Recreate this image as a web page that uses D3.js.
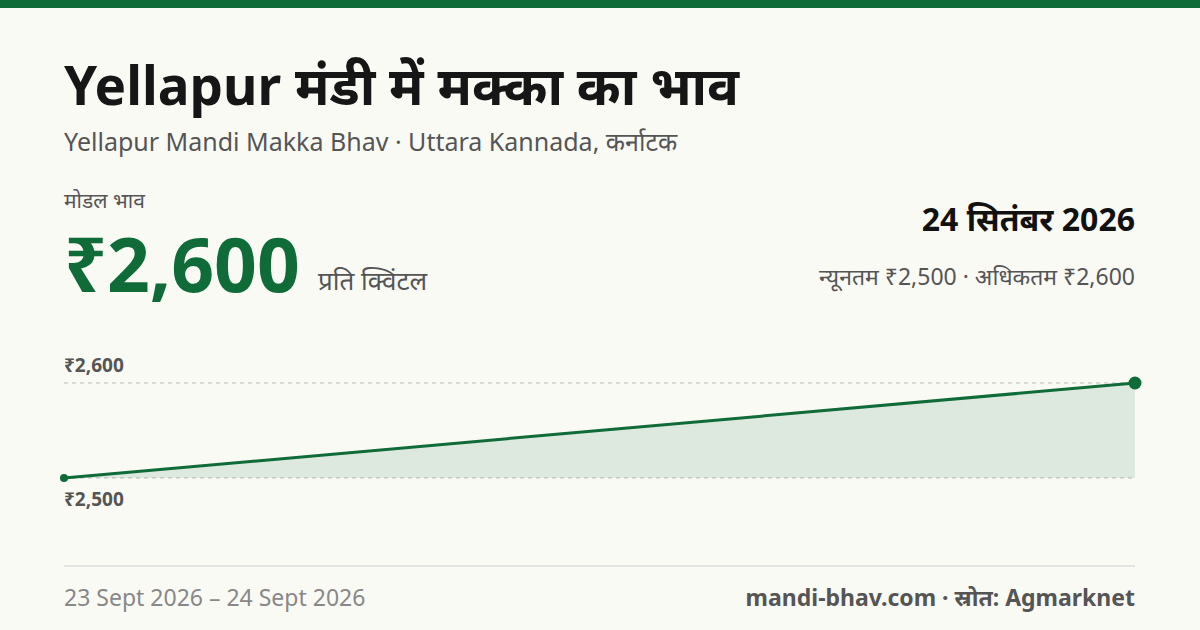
<!DOCTYPE html>
<html><head><meta charset="utf-8">
<script src="https://cdn.jsdelivr.net/npm/d3@7"></script>
<style>body{margin:0;background:#fafaf5}svg{display:block;font-family:"Noto Sans","Noto Sans Devanagari",sans-serif}</style>
</head><body><svg id="c" width="1200" height="630"></svg>
<script>
const dates = ["23 Sept 2026","24 Sept 2026"];
const prices = [2500, 2600];
const tickValues = [2500, 2600];
const tickLabels = ["₹2,500","₹2,600"];

const svg = d3.select("#c");
svg.append("rect").attr("width",1200).attr("height",630).attr("fill","#fafaf5");
svg.append("rect").attr("width",1200).attr("height",8).attr("fill","#0f6b38");

const t=(x,y,s,txt,o={})=>svg.append("text").attr("x",x).attr("y",y).attr("font-size",s)
  .attr("font-weight",o.w||400).attr("fill",o.c||"#111").attr("text-anchor",o.a||"start").text(txt);

t(64,105,53,"Yellapur मंडी में मक्का का भाव",{w:700,c:"#161616"});
t(64,151,25,"Yellapur Mandi Makka Bhav · Uttara Kannada, कर्नाटक",{c:"#555"});
t(64,208,21,"मोडल भाव",{c:"#555"});
t(64,292,75,"₹2,600",{w:700,c:"#0f6b38"});
t(318,290,26,"प्रति क्विंटल",{c:"#555"});
t(1135,231,32,"24 सितंबर 2026",{w:700,a:"end"});
t(1135,285,23,"न्यूनतम ₹2,500 · अधिकतम ₹2,600",{c:"#555",a:"end"});

const x = d3.scalePoint().domain(dates).range([64,1135]);
const y = d3.scaleLinear().domain([2500,2600]).range([478,383]);

tickValues.forEach((v,i)=>{
  svg.append("line").attr("x1",64).attr("x2",1135).attr("y1",y(v)).attr("y2",y(v))
    .attr("stroke","#bbb").attr("stroke-dasharray","4,4");
  t(64, v===2600? y(v)-11 : y(v)+28, 19, tickLabels[i], {w:700,c:"#555"});
});

const pts = dates.map((d,i)=>[x(d),y(prices[i])]);
svg.append("path").attr("d",d3.area().x(d=>d[0]).y0(y(2500)).y1(d=>d[1])(pts)).attr("fill","#0f6b38").attr("opacity",0.12);
svg.append("path").attr("d",d3.line()(pts)).attr("fill","none").attr("stroke","#0f6b38").attr("stroke-width",3);
svg.append("circle").attr("cx",pts[0][0]).attr("cy",pts[0][1]).attr("r",4).attr("fill","#0f6b38");
svg.append("circle").attr("cx",pts[1][0]).attr("cy",pts[1][1]).attr("r",6.5).attr("fill","#0f6b38");

svg.append("line").attr("x1",64).attr("x2",1135).attr("y1",566).attr("y2",566).attr("stroke","#ddd").attr("stroke-width",1.5);
t(64,606,23,dates[0]+" – "+dates[1],{c:"#888"});
t(1135,606,23,"mandi-bhav.com · स्रोत: Agmarknet",{w:700,c:"#555",a:"end"});
</script></body></html>
